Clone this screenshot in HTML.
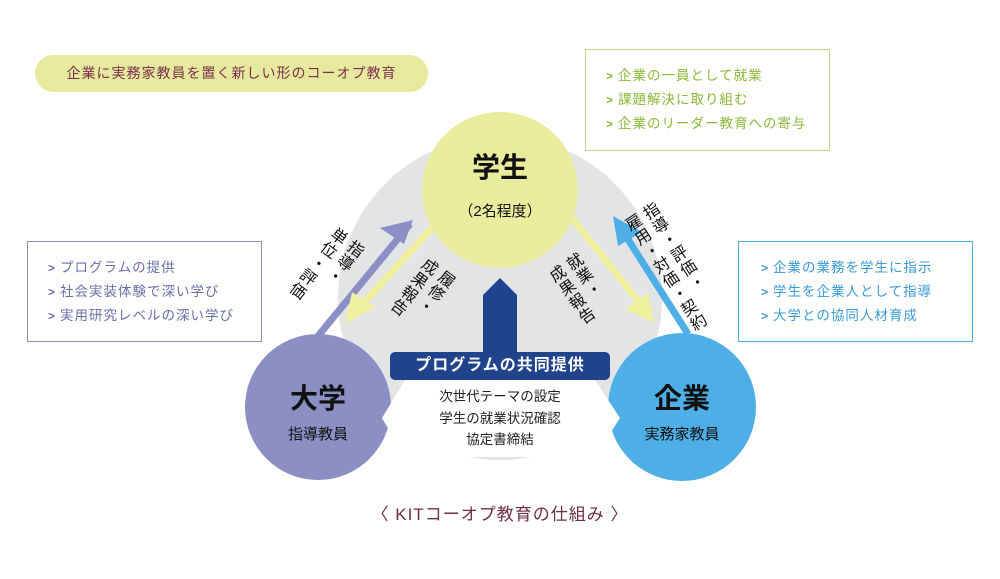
<!DOCTYPE html>
<html><head><meta charset="utf-8"><style>
body{margin:0;width:1000px;height:579px;background:#fff;position:relative;overflow:hidden;font-family:"Liberation Sans","Noto Sans CJK JP",sans-serif}
.a{position:absolute}
.box{position:absolute;box-sizing:border-box;border:1.5px solid;padding:14px 0 0 20px;font-size:13.5px;line-height:24px;letter-spacing:1px}
.box b{font-weight:bold;margin-right:4px;font-size:12px}
.v{position:absolute;writing-mode:vertical-rl;font-size:16px;line-height:21px;color:#111;letter-spacing:1px;white-space:nowrap}
</style></head><body>
<svg class="a" style="left:0;top:0" width="1000" height="579">
<circle cx="500" cy="298" r="162" fill="#e3e4e6"/>
<circle cx="500" cy="190" r="78" fill="#e9ec9c"/>
<circle cx="318" cy="407" r="73" fill="#8b8fc4"/>
<circle cx="682" cy="407" r="74" fill="#4eaee6"/>
<polyline points="318,336 410,224" stroke="#8b8fc4" stroke-width="7" fill="none"/>
<polygon points="413,220 380,228 404,244" fill="#8b8fc4"/>
<polyline points="432,228 350,318" stroke="#eef09e" stroke-width="7" fill="none"/>
<polygon points="345,324 352,292 375,307" fill="#eef09e"/>
<polyline points="572,218 650,316" stroke="#eef09e" stroke-width="7" fill="none"/>
<polygon points="654,323 625,309 648,293" fill="#eef09e"/>
<polyline points="688,334 617,222" stroke="#4eaee6" stroke-width="7" fill="none"/>
<polygon points="613,216 642,232 618,246" fill="#4eaee6"/>
<polygon points="483,360 483,295 500,278 517,295 517,360" fill="#21438c"/>
<polygon points="405,380 595,380 620,418 595,457 405,457 382,418" fill="#fff"/>
<rect x="390" y="352" width="220" height="28" rx="5" fill="#21438c"/>
</svg>
<div class="a" style="left:35px;top:55px;width:393px;height:37px;border-radius:19px;background:#e6e99e;color:#7a2f4a;font-size:14px;line-height:37px;text-align:center;letter-spacing:1px">企業に実務家教員を置く新しい形のコーオプ教育</div>
<div class="box" style="left:585px;top:49px;width:245px;height:102px;border-color:#c3d98a;color:#8bb83a"><div><b>&gt;</b>企業の一員として就業</div><div><b>&gt;</b>課題解決に取り組む</div><div><b>&gt;</b>企業のリーダー教育への寄与</div></div>
<div class="box" style="left:27px;top:241px;width:235px;height:101px;border-color:#8b8fc4;color:#6a6fa8"><div><b>&gt;</b>プログラムの提供</div><div><b>&gt;</b>社会実装体験で深い学び</div><div><b>&gt;</b>実用研究レベルの深い学び</div></div>
<div class="box" style="left:738px;top:241px;width:235px;height:101px;border-color:#4eaee6;color:#3a9ad6;padding-left:22px"><div><b>&gt;</b>企業の業務を学生に指示</div><div><b>&gt;</b>学生を企業人として指導</div><div><b>&gt;</b>大学との協同人材育成</div></div>
<div class="a" style="left:420px;top:146px;width:160px;text-align:center;font-size:28px;font-weight:bold;color:#111">学生</div>
<div class="a" style="left:420px;top:200px;width:160px;text-align:center;font-size:15px;color:#111">（2名程度）</div>
<div class="a" style="left:245px;top:377px;width:146px;text-align:center;font-size:28px;font-weight:bold;color:#111">大学</div>
<div class="a" style="left:245px;top:423px;width:146px;text-align:center;font-size:15px;color:#111">指導教員</div>
<div class="a" style="left:608px;top:377px;width:148px;text-align:center;font-size:28px;font-weight:bold;color:#111">企業</div>
<div class="a" style="left:608px;top:423px;width:148px;text-align:center;font-size:15px;color:#111">実務家教員</div>
<div class="a" style="left:390px;top:352px;width:220px;height:28px;line-height:28px;text-align:center;font-size:16px;font-weight:bold;color:#fff;letter-spacing:1px">プログラムの共同提供</div>
<div class="a" style="left:400px;top:386px;width:200px;text-align:center;font-size:13.5px;line-height:21.5px;color:#222">次世代テーマの設定<br>学生の就業状況確認<br>協定書締結</div>
<div class="v" style="left:304px;top:226px;transform:rotate(37deg)">指導・<br>単位・評価</div>
<div class="v" style="left:400px;top:258px;transform:rotate(37deg)">履修・<br>成果報告</div>
<div class="v" style="left:558px;top:256px;transform:rotate(-35deg)">就業・<br>成果報告</div>
<div class="v" style="left:652px;top:200px;transform:rotate(-33deg)">指導・評価・<br>雇用・対価・契約</div>
<div class="a" style="left:300px;top:500px;width:400px;text-align:center;font-size:17px;color:#6e2c48;letter-spacing:1px">〈 KITコーオプ教育の仕組み 〉</div>
</body></html>
